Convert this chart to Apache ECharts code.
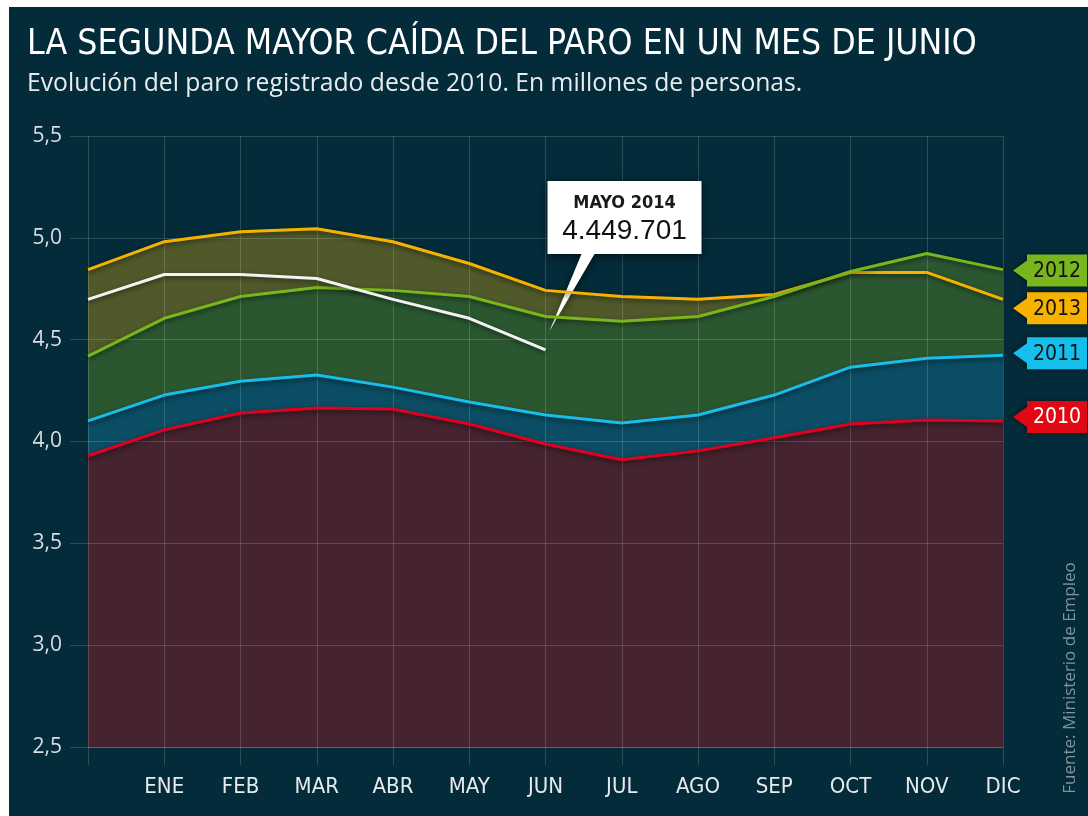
<!DOCTYPE html>
<html>
<head>
<meta charset="utf-8">
<script src="https://cdn.jsdelivr.net/npm/echarts@6/dist/echarts.min.js"></script>
<style>
html,body{margin:0;padding:0;background:#ffffff;width:1088px;height:816px;overflow:hidden;}
#chart{position:absolute;left:9px;top:7px;width:1079px;height:809px;}
</style>
</head>
<body>
<div id="chart"></div>
<script>
// ---- data (millions of people) ----
const months = ['', 'ENE', 'FEB', 'MAR', 'ABR', 'MAY', 'JUN', 'JUL', 'AGO', 'SEP', 'OCT', 'NOV', 'DIC'];
const y2010 = [3.930, 4.057, 4.140, 4.164, 4.159, 4.086, 3.988, 3.910, 3.954, 4.018, 4.086, 4.106, 4.101];
const y2011 = [4.101, 4.228, 4.296, 4.326, 4.267, 4.194, 4.130, 4.091, 4.130, 4.228, 4.365, 4.409, 4.424];
const y2012 = [4.419, 4.605, 4.712, 4.756, 4.742, 4.712, 4.614, 4.590, 4.614, 4.712, 4.835, 4.923, 4.844];
const y2013 = [4.844, 4.981, 5.030, 5.045, 4.981, 4.874, 4.742, 4.712, 4.698, 4.722, 4.830, 4.830, 4.698];
const y2014 = [4.698, 4.820, 4.820, 4.800, 4.698, 4.605, 4.4497, null, null, null, null, null, null];
const yTicks = [2.5, 3.0, 3.5, 4.0, 4.5, 5.0, 5.5];
const calloutTitle = 'MAYO 2014';
const calloutValue = '4.449.701';

const BG = '#032b39';
const GRID = 'rgba(255,255,255,0.16)';
const COND = '"DejaVu Sans Condensed", "DejaVu Sans", sans-serif';
const SANS = '"Liberation Sans", Arial, sans-serif';
const OPEN = '"Open Sans", "Liberation Sans", sans-serif';

const tagPath = 'path://M14 0 L74 0 L74 32 L14 32 L14 26 L0 16 L14 6 Z';
const calloutPath = 'path://M0 0 L154 0 L154 73 L47 73 L2 150 L34 73 L0 73 Z';

function areaSeries(name, data, color) {
  return {
    name: name + '_area', type: 'line', data: data, z: 1, silent: true,
    symbol: 'none', showSymbol: false,
    lineStyle: { width: 0, opacity: 0 },
    areaStyle: { color: color, opacity: 1, origin: 'start' }
  };
}
function lineSeries(name, data, color, tag) {
  const s = {
    name: name, type: 'line', data: data, z: 20, silent: true,
    symbol: 'none', showSymbol: false, connectNulls: false,
    lineStyle: { width: 3, color: color, shadowColor: 'rgba(0,0,0,0.55)', shadowBlur: 5, shadowOffsetY: 2 }
  };
  if (tag) {
    s.markPoint = {
      silent: true, animation: false,
      data: [{
        coord: ['DIC', data[data.length - 1]],
        symbol: tagPath, symbolSize: [74, 32], symbolOffset: [47, tag.dy],
        itemStyle: { color: tag.bg, shadowColor: 'rgba(0,0,0,0.5)', shadowBlur: 4, shadowOffsetX: -1 },
        label: { show: true, formatter: name, color: tag.fg, fontSize: 21, fontFamily: COND, offset: [7, 1] }
      }]
    };
  }
  return s;
}

const series = [
  areaSeries('2013', y2013, '#50592a'),
  areaSeries('2012', y2012, '#2b5730'),
  areaSeries('2011', y2011, '#0a4d64'),
  areaSeries('2010', y2010, '#45232f'),
  lineSeries('2013', y2013, '#f5b300', { bg: '#f7b200', fg: '#111111', dy: 9 }),
  lineSeries('2012', y2012, '#79b51c', { bg: '#79b51c', fg: '#111111', dy: 1 }),
  lineSeries('2011', y2011, '#18bde9', { bg: '#15bfec', fg: '#111111', dy: -2 }),
  lineSeries('2010', y2010, '#e2001f', { bg: '#e30613', fg: '#ffffff', dy: -4 }),
  {
    name: '2014', type: 'line', data: y2014, z: 21, silent: true,
    symbol: 'none', showSymbol: false,
    lineStyle: { width: 3, color: '#f2f2f2', shadowColor: 'rgba(0,0,0,0.55)', shadowBlur: 5, shadowOffsetY: 2 },
    markPoint: {
      silent: true, animation: false,
      data: [{
        coord: ['JUN', 4.4497],
        symbol: calloutPath, symbolSize: [154, 150], symbolOffset: [79, -94],
        itemStyle: { color: '#ffffff', shadowColor: 'rgba(0,0,0,0.6)', shadowBlur: 8, shadowOffsetY: 2 },
        label: {
          show: true, offset: [0, -37],
          formatter: '{a|' + calloutTitle + '}\n{b|' + calloutValue + '}',
          rich: {
            a: { fontFamily: COND, fontWeight: 'bold', fontSize: 18, color: '#1a1a1a', lineHeight: 24, align: 'center' },
            b: { fontFamily: SANS, fontSize: 28, color: '#111111', lineHeight: 32, align: 'center' }
          }
        }
      }]
    }
  }
];

const chart = echarts.init(document.getElementById('chart'), null, { renderer: 'canvas' });
chart.setOption({
  animation: false,
  backgroundColor: BG,
  title: [
    { text: 'LA SEGUNDA MAYOR CAÍDA DEL PARO EN UN MES DE JUNIO', left: 18, top: 20, padding: 0,
      textStyle: { color: '#ffffff', fontFamily: COND, fontWeight: 'normal', fontSize: 35.3 } },
    { text: 'Evolución del paro registrado desde 2010. En millones de personas.', left: 18, top: 64, padding: 0,
      textStyle: { color: '#e8ecee', fontFamily: OPEN, fontWeight: 'normal', fontSize: 24.7 } }
  ],
  grid: { left: 79, right: 85, top: 129, bottom: 69, containLabel: false },
  xAxis: {
    type: 'category', data: months, boundaryGap: false, z: 5,
    axisLine: { show: true, lineStyle: { color: GRID, width: 1 } },
    axisTick: { show: true, length: 18, alignWithLabel: true, lineStyle: { color: GRID } },
    splitLine: { show: true, lineStyle: { color: GRID, width: 1 } },
    axisLabel: { color: '#e6eaec', fontFamily: COND, fontSize: 22, margin: 29, interval: 0 }
  },
  yAxis: {
    type: 'value', min: 2.5, max: 5.5, interval: 0.5, z: 5,
    axisLine: { show: false },
    axisTick: { show: true, length: 18, lineStyle: { color: GRID } },
    splitLine: { show: true, lineStyle: { color: GRID, width: 1 } },
    axisLabel: {
      color: '#d8dee1', fontFamily: OPEN, fontSize: 21, margin: 26,
      formatter: function (v) { return yTicks.indexOf(v) >= 0 ? v.toFixed(1).replace('.', ',') : ''; }
    }
  },
  graphic: [{
    type: 'text', x: 1061, y: 671, rotation: Math.PI / 2, silent: true,
    style: { text: 'Fuente: Ministerio de Empleo', fill: '#7d959d', font: '17px ' + OPEN, textAlign: 'center', textVerticalAlign: 'middle' }
  }],
  series: series
});
</script>
</body>
</html>
